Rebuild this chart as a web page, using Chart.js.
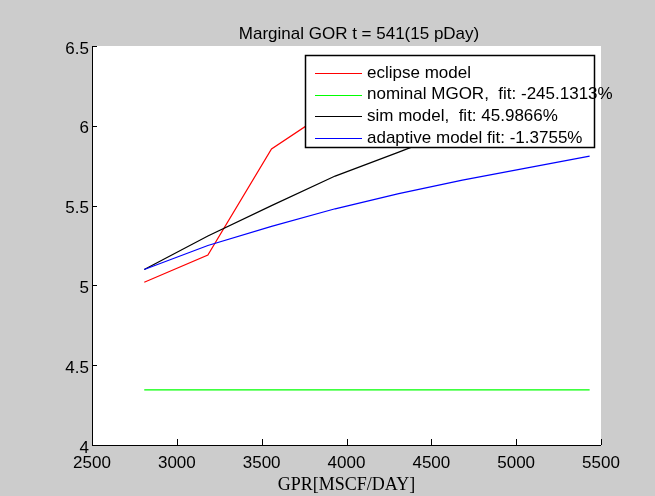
<!DOCTYPE html>
<html>
<head>
<meta charset="utf-8">
<script src="https://cdn.jsdelivr.net/npm/chart.js@4"></script>
<style>
  html, body { margin: 0; padding: 0; background: #cccccc; }
  #wrap { width: 655px; height: 496px; }
</style>
</head>
<body>
<div id="wrap"><canvas id="c" width="655" height="496"></canvas></div>
<script>
// Data
const gpr = [2808, 3183, 3558, 3933, 4308, 4683, 5058, 5433];
const eclipseModel = [5.02, 5.19, 5.855, 6.12, 6.25, 6.33, 6.38, 6.42];
const nominalMgor = [4.345, 4.345, 4.345, 4.345, 4.345, 4.345, 4.345, 4.345];
const simModel = [5.10, 5.31, 5.50, 5.685, 5.835, 5.99, 6.11, 6.22];
const adaptiveModel = [5.10, 5.25, 5.37, 5.48, 5.575, 5.66, 5.735, 5.81];

const xTicks = [2500, 3000, 3500, 4000, 4500, 5000, 5500];
const yTicks = [4, 4.5, 5, 5.5, 6, 6.5];

const seriesLabels = [
    'eclipse model',
    'nominal MGOR,  fit: -245.1313%',
    'sim model,  fit: 45.9866%',
    'adaptive model fit: -1.3755%'
];
const seriesColors = ['#ff0000', '#00ff00', '#000000', '#0000ff'];
const seriesValues = [eclipseModel, nominalMgor, simModel, adaptiveModel];

const titleText = 'Marginal GOR t = 541(15 pDay)';
const xTitle = 'GPR[MSCF/DAY]';

const sansFont = 'Liberation Sans, Arial, sans-serif';

// grey figure + white axes background
const backgroundPlugin = {
    id: 'background',
    beforeDraw(chart) {
        const { ctx, chartArea: a } = chart;
        ctx.save();
        ctx.fillStyle = '#cccccc';
        ctx.fillRect(0, 0, chart.width, chart.height);
        ctx.fillStyle = '#ffffff';
        ctx.fillRect(a.left, a.top, a.right - a.left, a.bottom - a.top);
        ctx.restore();
    }
};

// matlab style axes: left + bottom lines, ticks pointing inward, title
const axesPlugin = {
    id: 'matlabAxes',
    afterDraw(chart) {
        const { ctx, chartArea: a, scales } = chart;
        ctx.save();
        ctx.strokeStyle = '#000';
        ctx.lineWidth = 1;
        ctx.beginPath();
        ctx.moveTo(Math.round(a.left) + 0.5, a.top);
        ctx.lineTo(Math.round(a.left) + 0.5, Math.round(a.bottom) + 0.5);
        ctx.lineTo(a.right, Math.round(a.bottom) + 0.5);
        xTicks.forEach(v => {
            const px = Math.round(scales.x.getPixelForValue(v)) + 0.5;
            ctx.moveTo(px, a.bottom);
            ctx.lineTo(px, a.bottom - 6);
        });
        yTicks.forEach(v => {
            const py = Math.round(scales.y.getPixelForValue(v)) + 0.5;
            ctx.moveTo(a.left, py);
            ctx.lineTo(a.left + 5, py);
        });
        ctx.stroke();

        ctx.fillStyle = '#000';
        ctx.font = '17px ' + sansFont;
        ctx.textAlign = 'center';
        ctx.textBaseline = 'alphabetic';
        ctx.fillText(titleText, 359, 39);
        ctx.restore();
    }
};

// legend box drawn inside the axes, over the lines
const legendPlugin = {
    id: 'boxLegend',
    afterDatasetsDraw(chart) {
        const { ctx } = chart;
        const x0 = 305, y0 = 55, x1 = 594, y1 = 147;
        ctx.save();
        ctx.fillStyle = '#ffffff';
        ctx.fillRect(x0, y0, x1 - x0, y1 - y0);
        ctx.font = '17px ' + sansFont;
        ctx.textBaseline = 'middle';
        ctx.textAlign = 'left';
        seriesLabels.forEach((lbl, i) => {
            const y = 73 + i * 21.7;
            ctx.strokeStyle = seriesColors[i];
            ctx.lineWidth = 1.2;
            ctx.beginPath();
            ctx.moveTo(315, Math.round(y) + 0.5);
            ctx.lineTo(362, Math.round(y) + 0.5);
            ctx.stroke();
            ctx.fillStyle = '#000';
            ctx.fillText(lbl, 367, y);
        });
        ctx.strokeStyle = '#000';
        ctx.lineWidth = 1.5;
        ctx.strokeRect(x0 + 0.5, y0 + 0.5, x1 - x0, y1 - y0);
        ctx.restore();
    }
};

const datasets = seriesLabels.map((lbl, i) => ({
    label: lbl,
    data: gpr.map((x, j) => ({ x: x, y: seriesValues[i][j] })),
    borderColor: seriesColors[i],
    borderWidth: 1.2,
    pointRadius: 0,
    tension: 0,
    fill: false,
    order: 4 - i
}));

new Chart(document.getElementById('c'), {
    type: 'line',
    data: { datasets: datasets },
    options: {
        responsive: false,
        animation: false,
        layout: { padding: { left: 0, top: 46, right: 54, bottom: 0 } },
        plugins: {
            legend: { display: false },
            title: { display: false },
            tooltip: { enabled: false }
        },
        scales: {
            x: {
                type: 'linear',
                min: 2500,
                max: 5500,
                afterBuildTicks: s => { s.ticks = xTicks.map(v => ({ value: v })); },
                afterFit: s => { s.height = 51; },
                grid: { display: false, drawTicks: false },
                border: { display: false },
                ticks: {
                    color: '#000',
                    padding: 8,
                    maxRotation: 0,
                    font: { family: sansFont, size: 17 },
                    callback: v => String(v)
                },
                title: {
                    display: true,
                    text: xTitle,
                    color: '#000',
                    padding: { top: 0, bottom: 0 },
                    font: { family: 'Liberation Serif, Times New Roman, serif', size: 18 }
                }
            },
            y: {
                type: 'linear',
                min: 4,
                max: 6.5,
                afterBuildTicks: s => { s.ticks = yTicks.map(v => ({ value: v })); },
                afterFit: s => { s.width = 92; },
                grid: { display: false, drawTicks: false },
                border: { display: false },
                ticks: {
                    color: '#000',
                    padding: 3,
                    labelOffset: 3,
                    font: { family: sansFont, size: 17 },
                    callback: v => String(v)
                }
            }
        }
    },
    plugins: [backgroundPlugin, axesPlugin, legendPlugin]
});
</script>
</body>
</html>
